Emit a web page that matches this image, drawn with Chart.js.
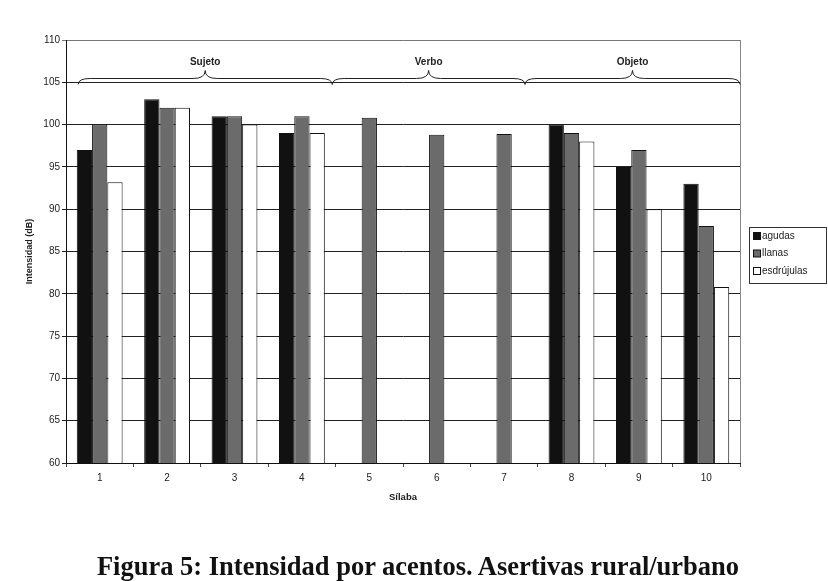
<!DOCTYPE html>
<html>
<head>
<meta charset="utf-8">
<script src="https://cdn.jsdelivr.net/npm/chart.js@4.4.1/dist/chart.umd.min.js"></script>
<style>
  body { margin: 0; background: #fff; }
  #wrap { position: relative; width: 828px; height: 581px; overflow: hidden; }
  #caption {
    position: absolute; left: 4px; top: 551px; width: 828px;
    text-align: center; color: #111; line-height: 1;
    font: bold 26.5px "Liberation Serif", serif;
    white-space: nowrap;
  }
</style>
</head>
<body>
<div id="wrap">
  <canvas id="chart" width="828" height="581"></canvas>
  <div id="caption">Figura 5: Intensidad por acentos. Asertivas rural/urbano</div>
</div>
<script>
// data
const silabas = ['1', '2', '3', '4', '5', '6', '7', '8', '9', '10'];
const agudas = [97, 103, 101, 99, null, null, null, 100, 95, 93];
const llanas = [100, 102, 101, 101, 100.8, 98.8, 98.9, 99, 97, 88];
const esdrujulas = [93.2, 102, 100, 99, null, null, null, 98, 90, 80.8];
const seriesNames = ['agudas', 'llanas', 'esdrújulas'];
const seriesColors = ['#111111', '#6b6b6b', '#ffffff'];

const yMin = 60, yMax = 110, yStep = 5;

// sentence parts marked with braces over the bars
const grupos = ['Sujeto', 'Verbo', 'Objeto'];
const grupoDesde = [-0.32, 3.45, 6.31];
const grupoHasta = [3.45, 6.31, 9.5];

const chartEl = document.querySelector('#chart');

function brace(ctx, x1, x2, y, d) {
  const mid = (x1 + x2) / 2;
  ctx.beginPath();
  ctx.moveTo(x1, y + d);
  ctx.quadraticCurveTo(x1, y, x1 + 2 * d, y);
  ctx.lineTo(mid - 2 * d, y);
  ctx.quadraticCurveTo(mid, y, mid, y - d - 2);
  ctx.quadraticCurveTo(mid, y, mid + 2 * d, y);
  ctx.lineTo(x2 - 2 * d, y);
  ctx.quadraticCurveTo(x2, y, x2, y + d);
  ctx.stroke();
}

const extras = {
  id: 'extras',
  afterDraw(chart) {
    const ctx = chart.ctx;
    const xs = chart.scales.x;
    const ys = chart.scales.y;
    const area = chart.chartArea;
    ctx.save();

    // right border of plot area
    ctx.strokeStyle = '#888';
    ctx.lineWidth = 1;
    ctx.beginPath();
    ctx.moveTo(Math.round(area.right) + 0.5, area.top);
    ctx.lineTo(Math.round(area.right) + 0.5, area.bottom);
    ctx.stroke();

    // braces + labels
    ctx.strokeStyle = '#222';
    ctx.fillStyle = '#222';
    ctx.font = 'bold 10px "Liberation Sans", Arial, sans-serif';
    ctx.textAlign = 'center';
    ctx.textBaseline = 'middle';
    const by = ys.getPixelForValue(105.45);
    grupos.forEach((g, i) => {
      const x1 = xs.getPixelForValue(grupoDesde[i]);
      const x2 = xs.getPixelForValue(grupoHasta[i]);
      brace(ctx, x1, x2, by, 6);
      ctx.fillText(g, (x1 + x2) / 2, ys.getPixelForValue(107.35));
    });

    // legend box
    const lx = 749.5, ly = 227.5;
    ctx.strokeStyle = '#333';
    ctx.strokeRect(lx, ly, 77, 56);
    ctx.font = '10px "Liberation Sans", Arial, sans-serif';
    ctx.textAlign = 'left';
    seriesNames.forEach((name, i) => {
      const ry = 236 + i * 17.5;
      ctx.fillStyle = seriesColors[i];
      ctx.fillRect(753, ry - 3.5, 7, 7);
      ctx.strokeStyle = '#111';
      ctx.strokeRect(753.5, ry - 3.5, 7, 7);
      ctx.fillStyle = '#222';
      ctx.fillText(name, 762, ry);
    });
    ctx.restore();
  }
};

const datasets = [agudas, llanas, esdrujulas].map((vals, i) => ({
  label: seriesNames[i],
  data: vals,
  backgroundColor: seriesColors[i],
  borderColor: '#111',
  borderWidth: 1,
  barPercentage: 1,
  categoryPercentage: 0.68
}));

const silabaChart = new Chart(chartEl, {
  type: 'bar',
  data: { labels: silabas, datasets: datasets },
  options: {
    responsive: false,
    animation: false,
    devicePixelRatio: 1,
    layout: { padding: { left: 20, top: 40, right: 88, bottom: 74 } },
    scales: {
      x: {
        afterFit: (s) => { s.height = 44; },
        grid: { drawOnChartArea: false, tickLength: 4, color: '#444' },
        border: { color: '#111' },
        ticks: { color: '#222', padding: 5, font: { size: 10, family: '"Liberation Sans", Arial' } },
        title: { display: true, text: 'Sílaba', color: '#222', font: { size: 9.5, weight: 'bold', family: '"Liberation Sans", Arial' } }
      },
      y: {
        min: yMin,
        max: yMax,
        afterFit: (s) => { s.width = 46; },
        grid: {
          color: (c) => (c.tick && c.tick.value === yMax ? '#777' : '#222'),
          tickLength: 4
        },
        border: { color: '#111' },
        ticks: { stepSize: yStep, color: '#222', padding: 2, font: { size: 10, family: '"Liberation Sans", Arial' } },
        title: { display: true, text: 'Intensidad (dB)', color: '#222', font: { size: 9, weight: 'bold', family: '"Liberation Sans", Arial' } }
      }
    },
    plugins: {
      legend: { display: false },
      tooltip: { enabled: false }
    }
  },
  plugins: [extras]
});
</script>
</body>
</html>
